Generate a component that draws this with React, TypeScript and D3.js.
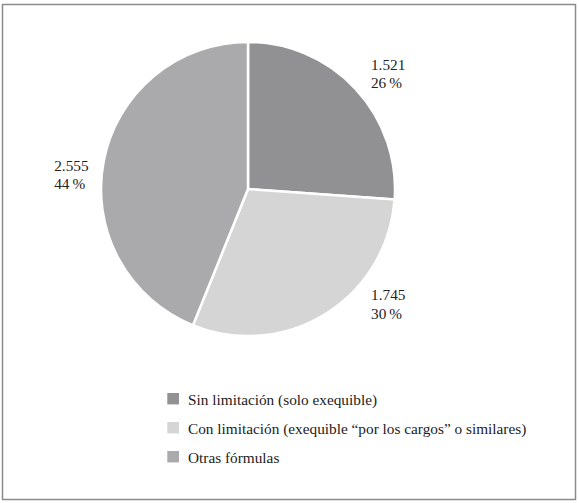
import React from "react";
import * as d3 from "d3";

const categories = [
  "Sin limitación (solo exequible)",
  "Con limitación (exequible “por los cargos” o similares)",
  "Otras fórmulas",
];
const values = [1521, 1745, 2555];
const valueLabels = ["1.521", "1.745", "2.555"];
const percentLabels = ["26\u2009%", "30\u2009%", "44\u2009%"];
const colors = ["#919193", "#d5d5d6", "#aaaaac"];
// label placement: angle offset (rad) from slice mid and radius
const labelAngleShift = [0.02, -0.239, -0.145];
const labelRadius = [165, 172, 194];

export default function App() {
  const W = 579, H = 503;
  const cx = 248, cy = 189, r = 147;
  const pie = d3.pie<number>().sort(null).value((d) => d);
  const arcs = pie(values);
  const arcGen = d3.arc<d3.PieArcDatum<number>>().innerRadius(0).outerRadius(r);
  const font = "Liberation Serif, Times New Roman, serif";
  const legendY = d3.scalePoint<string>().domain(categories).range([398.7, 456.7]);
  return (
    <svg width={W} height={H} style={{ position: "absolute", left: 0, top: 0 }}>
      <rect x={2.5} y={4.5} width={573} height={495} fill="#fff" stroke="#8a8a8a" strokeWidth={1.5} />
      <g transform={`translate(${cx},${cy})`}>
        {arcs.map((a, i) => (
          <path key={i} d={arcGen(a) || ""} fill={colors[i]} stroke="#fff" strokeWidth={2.5} strokeLinejoin="round" />
        ))}
        {arcs.map((a, i) => {
          const ang = (a.startAngle + a.endAngle) / 2 + labelAngleShift[i];
          const x = Math.sin(ang) * labelRadius[i];
          const y = -Math.cos(ang) * labelRadius[i];
          return (
            <text key={i} x={x} y={y} textAnchor="start" style={{ fontFamily: font }} fontSize={15.3} fill="#222">
              <tspan x={x} dy={-9}>{valueLabels[i]}</tspan>
              <tspan x={x} dy={18.5}>{percentLabels[i]}</tspan>
            </text>
          );
        })}
      </g>
      {categories.map((c, i) => {
        const y = legendY(c) as number;
        return (
          <g key={i}>
            <rect x={167.3} y={y - 5.7} width={11.7} height={11.4} fill={colors[i]} />
            <text x={188} y={y + 6.2} style={{ fontFamily: font }} fontSize={15.3} fill="#222">{c}</text>
          </g>
        );
      })}
    </svg>
  );
}
